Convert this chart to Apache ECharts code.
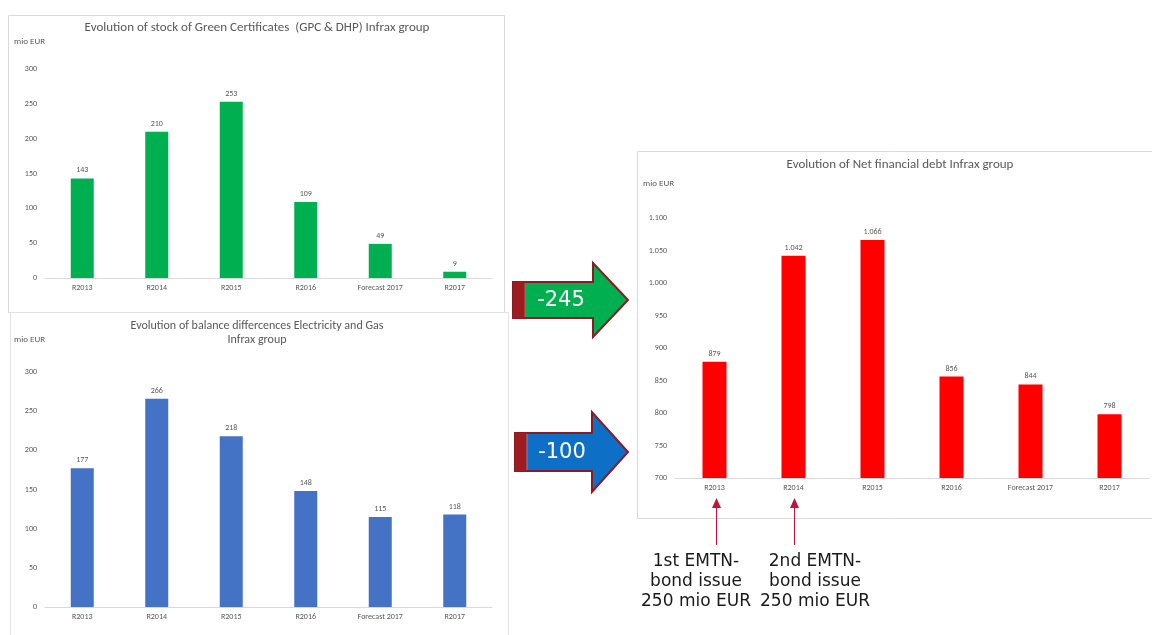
<!DOCTYPE html>
<html>
<head>
<meta charset="utf-8">
<script src="https://cdn.jsdelivr.net/npm/echarts@6/dist/echarts.min.js"></script>
<style>
html,body{margin:0;padding:0;background:#fff;}
#chart{width:1152px;height:635px;}
</style>
</head>
<body>
<div id="chart"></div>
<script>
var categories = ['R2013', 'R2014', 'R2015', 'R2016', 'Forecast 2017', 'R2017'];
var greenCertificates = [143, 210, 253, 109, 49, 9];
var balanceDifferences = [177, 266, 218, 148, 115, 118];
var netFinancialDebt = [879, 1042, 1066, 856, 844, 798];
var greenTicks = [0, 50, 100, 150, 200, 250, 300];
var debtTicks = [700, 750, 800, 850, 900, 950, 1000, 1050, 1100];
var arrowLabels = ['-245', '-100'];
var annotation1 = ['1st EMTN-', 'bond issue', '250 mio EUR'];
var annotation2 = ['2nd EMTN-', 'bond issue', '250 mio EUR'];

var FONT = 'Calibri, Carlito, "Liberation Sans", "Open Sans", sans-serif';
var GREY = '#595959';

function fmtThousands(v) {
  var s = String(v);
  if (v >= 1000) s = s.slice(0, s.length - 3) + '.' + s.slice(-3);
  return s;
}

var chart = echarts.init(document.getElementById('chart'), null, {renderer: 'canvas'});

function xAxisFor(idx) {
  return {
    type: 'category', gridIndex: idx, data: categories,
    axisLine: {lineStyle: {color: '#d9d9d9', width: 1}},
    axisTick: {show: false},
    axisLabel: {color: GREY, fontSize: 8, fontFamily: FONT, margin: 6}
  };
}
function yAxisFor(idx, min, max, fmt) {
  return {
    type: 'value', gridIndex: idx, min: min, max: max, interval: 50,
    axisLine: {show: false}, axisTick: {show: false},
    splitLine: {show: false},
    axisLabel: {color: GREY, fontSize: 8, fontFamily: FONT, margin: 8, formatter: fmt}
  };
}
function barSeries(idx, data, color, width) {
  return {
    type: 'bar', xAxisIndex: idx, yAxisIndex: idx, data: data, barWidth: width,
    itemStyle: {color: color},
    label: {show: true, position: 'top', distance: 4, color: GREY, fontSize: 8, fontFamily: FONT,
      formatter: function (p) { return fmtThousands(p.value); }}
  };
}

function arrowShape(x0, xHead, xTip, yMid, bodyHalf, headHalf) {
  return [
    [x0, yMid - bodyHalf], [xHead, yMid - bodyHalf], [xHead, yMid - headHalf],
    [xTip, yMid], [xHead, yMid + headHalf], [xHead, yMid + bodyHalf], [x0, yMid + bodyHalf]
  ];
}

var graphics = [
  {type: 'rect', z: -10, shape: {x: 8.5, y: 15.5, width: 496, height: 297}, style: {fill: '#fff', stroke: '#d9d9d9', lineWidth: 1}},
  {type: 'rect', z: -10, shape: {x: 10.5, y: 312.5, width: 498, height: 340}, style: {fill: '#fff', stroke: '#e3e3e3', lineWidth: 1}},
  {type: 'rect', z: -10, shape: {x: 637.5, y: 151.5, width: 530, height: 367}, style: {fill: '#fff', stroke: '#d9d9d9', lineWidth: 1}},
  {type: 'text', x: 257, y: 28, style: {text: 'Evolution of stock of Green Certificates  (GPC & DHP) Infrax group', fill: GREY, font: '13px ' + FONT, align: 'center', verticalAlign: 'middle'}},
  {type: 'text', x: 14, y: 42, style: {text: 'mio EUR', fill: GREY, font: '9px ' + FONT, align: 'left', verticalAlign: 'middle'}},
  {type: 'text', x: 257, y: 326, style: {text: 'Evolution of balance differcences Electricity and Gas', fill: GREY, font: '12px ' + FONT, align: 'center', verticalAlign: 'middle'}},
  {type: 'text', x: 257, y: 340, style: {text: 'Infrax group', fill: GREY, font: '12px ' + FONT, align: 'center', verticalAlign: 'middle'}},
  {type: 'text', x: 14, y: 340, style: {text: 'mio EUR', fill: GREY, font: '9px ' + FONT, align: 'left', verticalAlign: 'middle'}},
  {type: 'text', x: 900, y: 165, style: {text: 'Evolution of Net financial debt Infrax group', fill: GREY, font: '13px ' + FONT, align: 'center', verticalAlign: 'middle'}},
  {type: 'text', x: 643, y: 184, style: {text: 'mio EUR', fill: GREY, font: '9px ' + FONT, align: 'left', verticalAlign: 'middle'}},
  // green arrow
  {type: 'polygon', shape: {points: arrowShape(513, 593, 628, 300, 18, 37)}, style: {fill: '#00B050', stroke: '#8B1A22', lineWidth: 2}},
  {type: 'rect', shape: {x: 513, y: 282, width: 12, height: 36}, style: {fill: '#9E1B22'}},
  {type: 'line', shape: {x1: 525, y1: 283, x2: 525, y2: 317}, style: {stroke: '#b5654f', lineWidth: 1}},
  {type: 'text', x: 561, y: 301, style: {text: arrowLabels[0], fill: '#ffffff', font: '21px "DejaVu Sans", Verdana, sans-serif', align: 'center', verticalAlign: 'middle'}},
  // blue arrow
  {type: 'polygon', shape: {points: arrowShape(515, 592, 628, 452, 19, 40)}, style: {fill: '#0E6FC6', stroke: '#8B1A22', lineWidth: 2}},
  {type: 'rect', shape: {x: 515, y: 433, width: 12, height: 38}, style: {fill: '#9E1B22'}},
  {type: 'line', shape: {x1: 527, y1: 434, x2: 527, y2: 470}, style: {stroke: '#7a86b0', lineWidth: 1}},
  {type: 'text', x: 562, y: 453, style: {text: arrowLabels[1], fill: '#ffffff', font: '21px "DejaVu Sans", Verdana, sans-serif', align: 'center', verticalAlign: 'middle'}},
  // annotation arrows
  {type: 'line', shape: {x1: 716.5, y1: 506, x2: 716.5, y2: 545}, style: {stroke: '#C0143C', lineWidth: 1}},
  {type: 'polygon', shape: {points: [[716.5, 498], [712, 508], [721, 508]]}, style: {fill: '#C0143C'}},
  {type: 'line', shape: {x1: 794.5, y1: 506, x2: 794.5, y2: 545}, style: {stroke: '#C0143C', lineWidth: 1}},
  {type: 'polygon', shape: {points: [[794.5, 498], [790, 508], [799, 508]]}, style: {fill: '#C0143C'}}
];

annotation1.forEach(function (t, i) {
  graphics.push({type: 'text', x: 696, y: 562 + i * 20, style: {text: t, fill: '#1a1a1a', font: '17px "DejaVu Sans", Verdana, sans-serif', align: 'center', verticalAlign: 'middle'}});
});
annotation2.forEach(function (t, i) {
  graphics.push({type: 'text', x: 815, y: 562 + i * 20, style: {text: t, fill: '#1a1a1a', font: '17px "DejaVu Sans", Verdana, sans-serif', align: 'center', verticalAlign: 'middle'}});
});

var option = {
  animation: false,
  backgroundColor: '#ffffff',
  grid: [
    {left: 45, right: 660, top: 69, bottom: 357},
    {left: 45, right: 660, top: 372, bottom: 28},
    {left: 675, right: 3, top: 218, bottom: 157}
  ],
  xAxis: [xAxisFor(0), xAxisFor(1), xAxisFor(2)],
  yAxis: [
    yAxisFor(0, greenTicks[0], greenTicks[greenTicks.length - 1]),
    yAxisFor(1, greenTicks[0], greenTicks[greenTicks.length - 1]),
    yAxisFor(2, debtTicks[0], debtTicks[debtTicks.length - 1], fmtThousands)
  ],
  series: [
    barSeries(0, greenCertificates, '#00B050', 23),
    barSeries(1, balanceDifferences, '#4472C4', 23),
    barSeries(2, netFinancialDebt, '#FF0000', 24)
  ],
  graphic: {elements: graphics}
};
chart.setOption(option);
</script>
</body>
</html>
